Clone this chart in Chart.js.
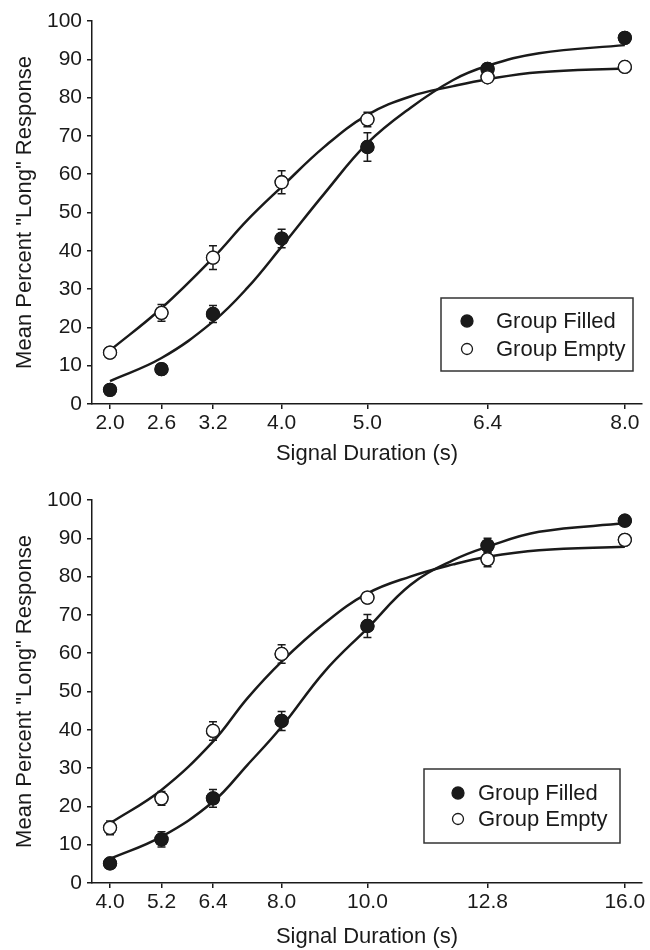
<!DOCTYPE html>
<html>
<head>
<meta charset="utf-8">
<script src="https://cdn.jsdelivr.net/npm/chart.js@4"></script>
<style>
  body { margin: 0; background: #fff; }
  .panel { position: absolute; left: 0; width: 650px; height: 475px; }
</style>
</head>
<body>
<div class="panel" style="top:0"><canvas id="top" width="650" height="475"></canvas></div>
<div class="panel" style="top:475px"><canvas id="bottom" width="650" height="475"></canvas></div>
<script>
// Top panel
const topTicks = [2.0, 2.6, 3.2, 4.0, 5.0, 6.4, 8.0];
const topFilled = [3.7, 9.1, 23.5, 43.2, 67.1, 87.5, 95.6];
const topFilledErr = [0.5, 1.0, 2.2, 2.4, 3.7, 1.0, 0.5];
const topEmpty = [13.4, 23.8, 38.2, 57.9, 74.3, 85.3, 88.0];
const topEmptyErr = [0.5, 2.2, 3.1, 3.0, 1.9, 1.0, 0.5];
const topCurveX = [2.0, 2.6, 3.2, 3.6, 4.0, 4.5, 5.0, 5.5, 6.0, 6.4, 7.0, 8.0];
const topFilledCurve = [6.0, 12.0, 21.5, 30.3, 41.1, 55.0, 68.1, 77.3, 84.6, 88.3, 91.6, 93.7];
const topEmptyCurve = [14.0, 25.0, 38.1, 48.0, 56.7, 67.2, 75.5, 80.3, 83.0, 84.8, 86.6, 87.6];

// Bottom panel
const bottomTicks = [4.0, 5.2, 6.4, 8.0, 10.0, 12.8, 16.0];
const bottomFilled = [5.1, 11.4, 22.1, 42.3, 67.1, 88.1, 94.6];
const bottomFilledErr = [1.0, 2.0, 2.3, 2.5, 3.0, 1.9, 0.8];
const bottomEmpty = [14.4, 22.1, 39.7, 59.8, 74.5, 84.5, 89.6];
const bottomEmptyErr = [1.8, 1.8, 2.4, 2.4, 1.2, 1.9, 0.5];
const bottomCurveX = [4.0, 5.2, 6.4, 7.2, 8.0, 9.0, 10.0, 11.0, 12.0, 12.8, 14.0, 16.0];
const bottomFilledCurve = [6.3, 12.1, 21.2, 30.8, 40.8, 55.2, 66.5, 77.8, 84.3, 87.8, 91.7, 93.9];
const bottomEmptyCurve = [15.6, 24.3, 36.9, 48.2, 57.8, 67.8, 75.6, 80.0, 83.2, 85.2, 86.9, 87.8];

const seriesNames = ['Group Filled', 'Group Empty'];
const yTitle = 'Mean Percent "Long" Response';
const xTitle = 'Signal Duration (s)';

const ink = '#1a1a1a';
const fontFamily = '"Liberation Sans", Arial, Helvetica, sans-serif';

function pts(xs, ys) { return xs.map((x, i) => ({ x: x, y: ys[i] })); }

// error bars, then the markers again on top
const errorBars = {
  id: 'errorBars',
  afterDatasetsDraw(chart) {
    const { ctx, scales: { x, y } } = chart;
    ctx.save();
    ctx.strokeStyle = ink;
    ctx.lineWidth = 1.5;
    chart.data.datasets.forEach((ds) => {
      if (!ds.errors) return;
      ds.data.forEach((p, j) => {
        const e = ds.errors[j];
        const px = x.getPixelForValue(p.x);
        const y1 = y.getPixelForValue(p.y - e);
        const y2 = y.getPixelForValue(p.y + e);
        if (y1 - y2 < 12) return; // hidden by marker
        ctx.beginPath();
        ctx.moveTo(px, y1); ctx.lineTo(px, y2);
        ctx.moveTo(px - 4, y1); ctx.lineTo(px + 4, y1);
        ctx.moveTo(px - 4, y2); ctx.lineTo(px + 4, y2);
        ctx.stroke();
      });
    });
    ctx.restore();
    chart.data.datasets.forEach((ds, i) => {
      if (ds.errors) chart.getDatasetMeta(i).controller.draw();
    });
  }
};

// boxed legend inside the plot
const boxLegend = {
  id: 'boxLegend',
  afterDraw(chart, args, opts) {
    const { ctx } = chart;
    const b = opts.box;
    ctx.save();
    ctx.strokeStyle = '#333';
    ctx.lineWidth = 1.5;
    ctx.strokeRect(b.left, b.top, b.right - b.left, b.bottom - b.top);
    ctx.font = '22px ' + fontFamily;
    ctx.textBaseline = 'middle';
    const marks = chart.data.datasets.filter(d => d.errors);
    marks.forEach((ds, k) => {
      const cy = b.rows[k];
      ctx.beginPath();
      ctx.arc(b.markX, cy, k === 0 ? 6 : 5.5, 0, Math.PI * 2);
      ctx.fillStyle = ds.pointBackgroundColor;
      ctx.fill();
      ctx.lineWidth = 1.3;
      ctx.strokeStyle = ink;
      ctx.stroke();
      ctx.fillStyle = ink;
      ctx.fillText(ds.label, b.textX, cy + 1);
    });
    ctx.restore();
  }
};

function makeChart(id, ticks, xMin, xMax, filled, filledErr, empty, emptyErr, curveX, filledCurve, emptyCurve, layout) {
  const curve = (data) => ({
    type: 'line',
    data: pts(curveX, data),
    borderColor: ink,
    borderWidth: 2.5,
    pointRadius: 0,
    tension: 0.4,
    fill: false,
    order: 2
  });
  const marker = (label, data, err, bg) => ({
    type: 'scatter',
    label: label,
    data: pts(ticks, data),
    errors: err,
    pointRadius: 6.5,
    pointBackgroundColor: bg,
    pointBorderColor: ink,
    pointBorderWidth: 1.3,
    showLine: false,
    order: 1
  });
  return new Chart(document.getElementById(id), {
    type: 'scatter',
    data: {
      datasets: [
        curve(filledCurve),
        curve(emptyCurve),
        marker(seriesNames[0], filled, filledErr, ink),
        marker(seriesNames[1], empty, emptyErr, '#fff')
      ]
    },
    options: {
      responsive: false,
      animation: false,
      devicePixelRatio: 1,
      layout: { padding: { top: layout.top, right: 8, bottom: 0, left: 0 } },
      plugins: {
        legend: { display: false },
        tooltip: { enabled: false },
        boxLegend: { box: layout.legend }
      },
      scales: {
        x: {
          type: 'linear',
          min: xMin,
          max: xMax,
          afterBuildTicks: s => { s.ticks = ticks.map(v => ({ value: v })); },
          afterFit: s => { s.height = layout.xHeight; },
          ticks: {
            color: ink,
            font: { family: fontFamily, size: 21 },
            padding: 2,
            maxRotation: 0,
            autoSkip: false,
            callback: v => Number(v).toFixed(1)
          },
          grid: { drawOnChartArea: false, drawTicks: true, tickLength: 5, color: ink, lineWidth: 1.5 },
          border: { color: ink, width: 1.5 },
          title: {
            display: true,
            text: xTitle,
            color: ink,
            font: { family: fontFamily, size: 22 },
            padding: { top: 0, bottom: layout.titlePad }
          }
        },
        y: {
          min: 0,
          max: 100,
          afterFit: s => { s.width = 92; },
          ticks: {
            stepSize: 10,
            color: ink,
            font: { family: fontFamily, size: 21 },
            padding: 5
          },
          grid: { drawOnChartArea: false, drawTicks: true, tickLength: 5, color: ink, lineWidth: 1.5 },
          border: { color: ink, width: 1.5 },
          title: {
            display: true,
            text: yTitle,
            color: ink,
            font: { family: fontFamily, size: 22 },
            padding: { top: 12, bottom: 0 }
          }
        }
      }
    },
    plugins: [errorBars, boxLegend]
  });
}

makeChart('top', topTicks, 1.79, 8.2, topFilled, topFilledErr, topEmpty, topEmptyErr,
  topCurveX, topFilledCurve, topEmptyCurve,
  { top: 21, xHeight: 71, titlePad: 8,
    legend: { left: 441, top: 298, right: 633, bottom: 371, markX: 467, textX: 496, rows: [321, 349] } });

makeChart('bottom', bottomTicks, 3.58, 16.4, bottomFilled, bottomFilledErr, bottomEmpty, bottomEmptyErr,
  bottomCurveX, bottomFilledCurve, bottomEmptyCurve,
  { top: 25, xHeight: 67, titlePad: 0,
    legend: { left: 424, top: 294, right: 620, bottom: 368, markX: 458, textX: 478, rows: [318, 344] } });
</script>
</body>
</html>
